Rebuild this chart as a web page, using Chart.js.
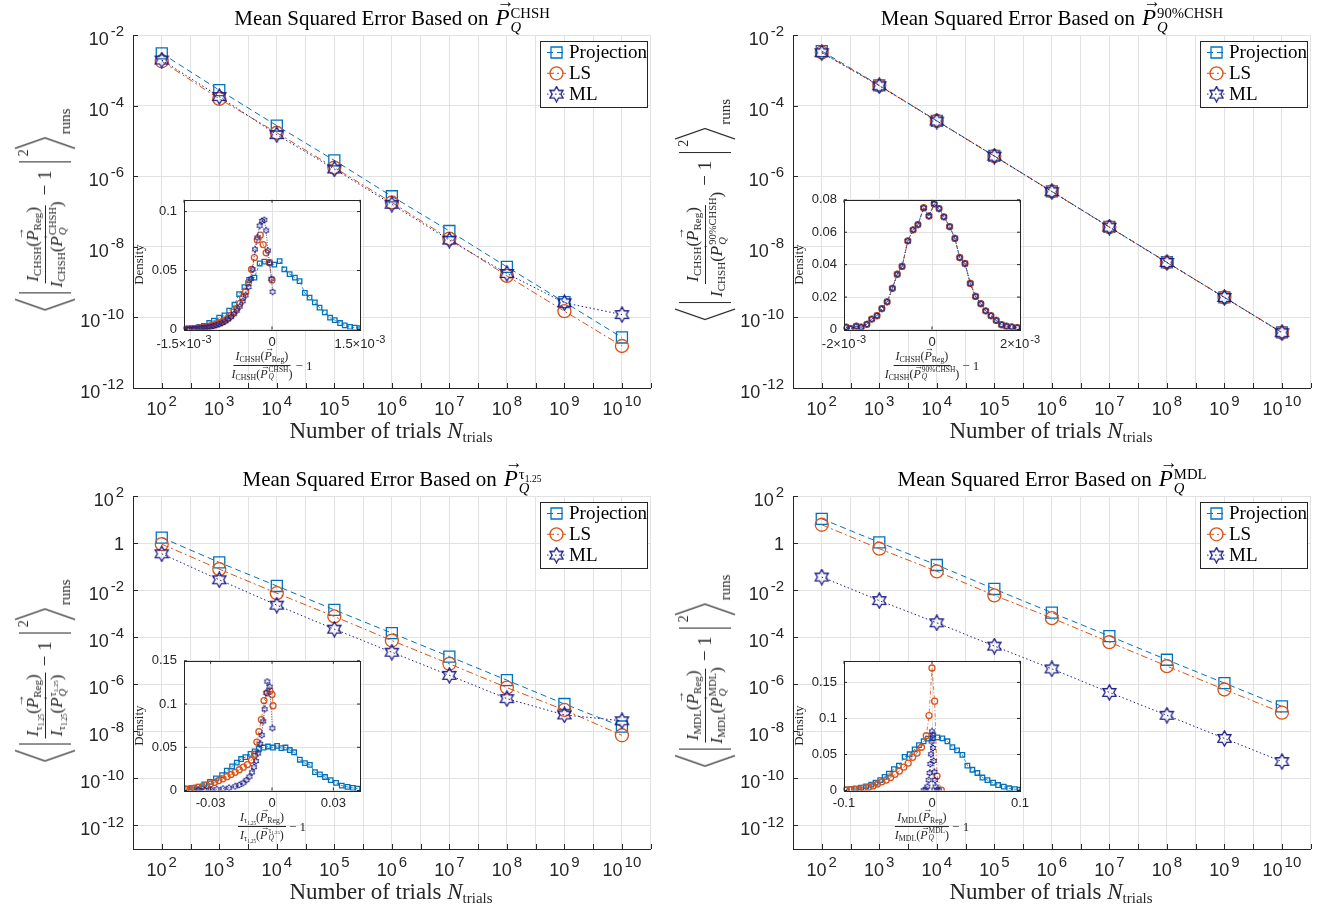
<!DOCTYPE html>
<html>
<head>
<meta charset="utf-8">
<script src="https://cdn.jsdelivr.net/npm/chart.js@4.4.0/dist/chart.umd.min.js"></script>
<style>
body{margin:0;background:#fff;}
#fig{position:relative;width:1337px;height:911px;overflow:hidden;font-family:'Liberation Serif',serif;color:#262626;}
.panel{position:absolute;width:660px;height:461px;}
.panel canvas{position:absolute;}
.ttl{position:absolute;left:392px;top:4px;transform:translateX(-50%);font-size:21px;white-space:nowrap;color:#000;}
.ttl .v{font-size:1.1em;margin-left:0.3em;}
.ttl .ss{font-size:0.7em;vertical-align:7px;}
.xl{position:absolute;left:391px;top:418px;transform:translateX(-50%);font-size:23px;white-space:nowrap;}
.v{position:relative;font-style:italic;display:inline-block;}
.v::after{content:'\2192';position:absolute;left:0.08em;top:-0.62em;font-size:0.75em;font-style:normal;line-height:1;}
.ss{display:inline-flex;flex-direction:column;font-size:0.62em;line-height:0.95;vertical-align:6px;margin-left:1px;}
sub{font-size:0.65em;vertical-align:-0.3em;line-height:0;}
.yl{position:absolute;transform:translate(-50%,-50%) rotate(-90deg);display:flex;align-items:center;white-space:nowrap;font-size:19px;}
.yl svg{display:block;}
.bar{display:inline-block;width:0;height:52px;border-left:1.3px solid #262626;margin:0 5px;}
.yl .fr{font-size:17px;line-height:1.25;}
.fr{display:inline-flex;flex-direction:column;align-items:center;}
.fr>span:first-child{border-bottom:1px solid #262626;padding:0 2px 1px;}
.m1{margin:0 3px 0 6px;}
.sq{align-self:flex-start;font-size:14px;margin-top:2px;}
.runs{align-self:flex-end;font-size:15px;margin-bottom:2px;margin-left:2px;}
.ixl{position:absolute;transform:translateX(-50%);font-size:13px;display:flex;align-items:center;white-space:nowrap;}
.ixl .fr{font-size:12px;line-height:1.15;margin-right:3px;}
</style>
</head>
<body>
<div id="fig"></div>
<script>
// number of trials (x of the main plots)
const nTrials = [1e2, 1e3, 1e4, 1e5, 1e6, 1e7, 1e8, 1e9, 1e10];

// main plots: mean squared error
const chshProj = [3.0e-3, 2.75e-4, 2.7e-5, 2.8e-6, 2.7e-7, 2.8e-8, 2.7e-9, 2.7e-10, 2.7e-11];
const chshLS   = [1.8e-3, 1.55e-4, 1.7e-5, 1.75e-6, 1.8e-7, 1.7e-8, 1.5e-9, 1.5e-10, 1.55e-11];
const chshML   = [1.95e-3, 1.8e-4, 1.5e-5, 1.6e-6, 1.6e-7, 1.55e-8, 1.75e-9, 2.6e-10, 1.2e-10];

const p90Proj = [3.5e-3, 3.75e-4, 3.7e-5, 3.75e-6, 3.7e-7, 3.65e-8, 3.65e-9, 3.7e-10, 3.75e-11];
const p90LS   = [3.2e-3, 3.7e-4, 3.7e-5, 3.7e-6, 3.7e-7, 3.6e-8, 3.6e-9, 3.7e-10, 3.7e-11];
const p90ML   = [3.15e-3, 3.65e-4, 3.65e-5, 3.7e-6, 3.65e-7, 3.6e-8, 3.6e-9, 3.65e-10, 3.7e-11];

const tauProj = [1.7, 0.15, 1.5e-2, 1.45e-3, 1.5e-4, 1.5e-5, 1.5e-6, 1.45e-7, 1.6e-8];
const tauLS   = [0.9, 7.8e-2, 7.4e-3, 7.6e-4, 7.2e-5, 7.4e-6, 7.2e-7, 8.1e-8, 6.8e-9];
const tauML   = [0.35, 2.75e-2, 2.3e-3, 2.2e-4, 2.3e-5, 2.4e-6, 2.45e-7, 5.0e-8, 2.8e-8];

const mdlProj = [10.7, 1.07, 0.117, 1.12e-2, 1.1e-3, 1.12e-4, 1.1e-5, 1.12e-6, 1.15e-7];
const mdlLS   = [6.0, 0.575, 6.3e-2, 6.0e-3, 6.5e-4, 6.2e-5, 5.9e-6, 6.0e-7, 6.2e-8];
const mdlML   = [3.6e-2, 3.6e-3, 4.1e-4, 4.2e-5, 4.5e-6, 4.5e-7, 4.8e-8, 5.0e-9, 5.2e-10];

// insets: density histograms (CHSH insets in units of 1e-3)
const chshHistProjX = [-1.50,-1.41,-1.33,-1.24,-1.16,-1.07,-0.99,-0.90,-0.81,-0.73,-0.64,-0.56,-0.47,-0.39,-0.30,-0.21,-0.13,-0.04,0.04,0.13,0.21,0.30,0.39,0.47,0.56,0.64,0.73,0.81,0.90,0.99,1.07,1.16,1.24,1.33,1.41,1.50];
const chshHistProjY = [0.0005,0.0008,0.0012,0.0022,0.0030,0.0055,0.0075,0.0100,0.0120,0.0160,0.0210,0.0300,0.0360,0.0420,0.0440,0.0560,0.0575,0.0570,0.0550,0.0580,0.0510,0.0470,0.0440,0.0410,0.0310,0.0270,0.0230,0.0185,0.0145,0.0100,0.0080,0.0055,0.0035,0.0023,0.0016,0.0012];
const chshHistLSX = [-1.50,-1.45,-1.40,-1.35,-1.30,-1.25,-1.20,-1.15,-1.10,-1.05,-1.00,-0.95,-0.90,-0.85,-0.80,-0.75,-0.70,-0.65,-0.60,-0.55,-0.50,-0.45,-0.40,-0.35,-0.30,-0.25,-0.20,-0.15,-0.10,-0.05,0.00];
const chshHistLSY = [0.0003,0.0004,0.0005,0.0007,0.0009,0.0012,0.0015,0.0019,0.0024,0.0030,0.0037,0.0045,0.0055,0.0066,0.0080,0.0098,0.0120,0.0150,0.0180,0.0220,0.0270,0.0320,0.0400,0.0510,0.0610,0.0760,0.0800,0.0720,0.0650,0.0570,0.0420];
const chshHistMLX = [-1.50,-1.45,-1.40,-1.35,-1.30,-1.25,-1.20,-1.15,-1.10,-1.05,-1.00,-0.95,-0.90,-0.85,-0.80,-0.75,-0.70,-0.65,-0.60,-0.55,-0.50,-0.45,-0.40,-0.36,-0.33,-0.29,-0.25,-0.21,-0.17,-0.13,-0.10,-0.07,-0.04,-0.01,0.01];
const chshHistMLY = [0.0002,0.0003,0.0004,0.0005,0.0007,0.0009,0.0012,0.0015,0.0019,0.0024,0.0030,0.0037,0.0045,0.0055,0.0068,0.0085,0.0105,0.0130,0.0160,0.0195,0.0240,0.0290,0.0360,0.0430,0.0510,0.0680,0.0780,0.0880,0.0920,0.0930,0.0840,0.0670,0.0560,0.0430,0.0320];

const p90HistX = [-1.95,-1.85,-1.72,-1.61,-1.48,-1.37,-1.25,-1.14,-1.02,-0.90,-0.79,-0.68,-0.55,-0.43,-0.32,-0.19,-0.07,0.05,0.16,0.27,0.40,0.52,0.63,0.75,0.87,0.99,1.11,1.22,1.34,1.46,1.58,1.69,1.81,1.94];
const p90HistProjY = [0.0014,0.0006,0.0020,0.0014,0.0032,0.0064,0.0085,0.0129,0.0171,0.0254,0.0340,0.0389,0.0546,0.0615,0.0647,0.0750,0.0700,0.0774,0.0746,0.0695,0.0635,0.0562,0.0443,0.0407,0.0284,0.0204,0.0159,0.0115,0.0085,0.0056,0.0030,0.0020,0.0016,0.0012];
const p90HistLSY   = [0.0014,0.0006,0.0020,0.0014,0.0032,0.0064,0.0085,0.0129,0.0171,0.0254,0.0341,0.0389,0.0547,0.0615,0.0647,0.0751,0.0700,0.0775,0.0746,0.0695,0.0635,0.0562,0.0444,0.0407,0.0284,0.0204,0.0159,0.0115,0.0085,0.0056,0.0030,0.0020,0.0016,0.0012];
const p90HistMLY   = [0.0014,0.0006,0.0020,0.0014,0.0032,0.0064,0.0085,0.0129,0.0171,0.0254,0.0340,0.0389,0.0546,0.0615,0.0647,0.0750,0.0700,0.0774,0.0746,0.0695,0.0635,0.0562,0.0443,0.0407,0.0284,0.0204,0.0159,0.0115,0.0085,0.0056,0.0030,0.0020,0.0016,0.0012];

const tauHistProjX = [-0.0415,-0.0389,-0.0359,-0.0331,-0.0303,-0.0274,-0.0244,-0.0221,-0.0195,-0.0172,-0.0151,-0.0130,-0.0105,-0.0085,-0.0064,-0.0041,-0.0020,0.0005,0.0025,0.0046,0.0066,0.0087,0.0108,0.0136,0.0161,0.0185,0.0210,0.0234,0.0259,0.0287,0.0313,0.0341,0.0369,0.0395,0.0418];
const tauHistProjY = [0.0020,0.0030,0.0045,0.0071,0.0100,0.0141,0.0178,0.0230,0.0278,0.0323,0.0364,0.0386,0.0423,0.0453,0.0483,0.0497,0.0509,0.0497,0.0516,0.0490,0.0497,0.0468,0.0442,0.0356,0.0316,0.0297,0.0212,0.0186,0.0156,0.0119,0.0089,0.0056,0.0041,0.0030,0.0022];
const tauHistLSX = [-0.0421,-0.0400,-0.0380,-0.0360,-0.0340,-0.0320,-0.0300,-0.0280,-0.0260,-0.0240,-0.0220,-0.0200,-0.0180,-0.0160,-0.0140,-0.0120,-0.0100,-0.0085,-0.0074,-0.0064,-0.0052,-0.0039,-0.0023,-0.0010,0.0000,0.0005];
const tauHistLSY = [0.0015,0.0020,0.0026,0.0035,0.0045,0.0060,0.0075,0.0095,0.0115,0.0135,0.0160,0.0185,0.0210,0.0240,0.0270,0.0300,0.0350,0.0420,0.0560,0.0680,0.0820,0.1040,0.1130,0.1150,0.1110,0.0980];
const tauHistMLX = [-0.0360,-0.0330,-0.0300,-0.0270,-0.0240,-0.0210,-0.0180,-0.0160,-0.0140,-0.0125,-0.0110,-0.0098,-0.0088,-0.0078,-0.0068,-0.0058,-0.0050,-0.0043,-0.0036,-0.0028,-0.0023,-0.0011,0.0002];
const tauHistMLY = [0.0004,0.0006,0.0010,0.0015,0.0022,0.0032,0.0048,0.0065,0.0090,0.0120,0.0160,0.0210,0.0270,0.0340,0.0430,0.0540,0.0640,0.0800,0.0940,0.1130,0.1260,0.1200,0.0720];

const mdlHistProjX = [-0.0975,-0.0918,-0.0861,-0.0805,-0.0748,-0.0691,-0.0641,-0.0588,-0.0539,-0.0490,-0.0433,-0.0376,-0.0311,-0.0254,-0.0197,-0.0148,-0.0095,-0.0046,0.0011,0.0061,0.0118,0.0175,0.0231,0.0285,0.0345,0.0402,0.0459,0.0516,0.0573,0.0630,0.0694,0.0751,0.0816,0.0877,0.0941,0.0998];
const mdlHistProjY = [0.0013,0.0018,0.0027,0.0040,0.0058,0.0081,0.0108,0.0144,0.0189,0.0234,0.0296,0.0346,0.0467,0.0503,0.0571,0.0629,0.0683,0.0719,0.0728,0.0737,0.0723,0.0683,0.0602,0.0557,0.0494,0.0346,0.0288,0.0243,0.0180,0.0144,0.0108,0.0076,0.0054,0.0031,0.0018,0.0013];
const mdlHistLSX = [-0.0975,-0.0930,-0.0880,-0.0830,-0.0780,-0.0720,-0.0670,-0.0620,-0.0570,-0.0520,-0.0470,-0.0420,-0.0370,-0.0320,-0.0270,-0.0220,-0.0170,-0.0120,-0.0065,-0.0034,0.0000,0.0030,0.0057,0.0106];
const mdlHistLSY = [0.0009,0.0013,0.0018,0.0023,0.0032,0.0045,0.0063,0.0090,0.0120,0.0145,0.0180,0.0225,0.0270,0.0325,0.0380,0.0460,0.0520,0.0600,0.0760,0.1040,0.1700,0.1240,0.0200,0.0005];
const mdlHistMLX = [-0.0095,-0.0072,-0.0053,-0.0038,-0.0027,-0.0019,-0.0011,-0.0004,0.0000,0.0008,0.0011,0.0019,0.0027,0.0034,0.0042,0.0057,0.0080];
const mdlHistMLY = [0.0003,0.0010,0.0054,0.0144,0.0243,0.0368,0.0503,0.0680,0.0820,0.0770,0.0590,0.0410,0.0256,0.0144,0.0054,0.0010,0.0003];

// tick values
const xTicksMain = [1.5,2,2.5,3,3.5,4,4.5,5,5.5,6,6.5,7,7.5,8,8.5,9,9.5,10,10.5].map(e => Math.pow(10, e));
const yTicksTop = [1e-12, 1e-10, 1e-8, 1e-6, 1e-4, 1e-2];
const yTicksBottom = [1e-12, 1e-10, 1e-8, 1e-6, 1e-4, 1e-2, 1, 1e2];

const C_PROJ = '#0072BD', C_LS = '#D95319', C_ML = '#1c1c8a', AX = '#262626', GRID = '#e2e2e2';
const SANS = "'Liberation Sans', Arial, sans-serif";

Chart.defaults.font.family = SANS;
Chart.defaults.color = AX;

function hexagram(size, color, lw) {
  const c = document.createElement('canvas');
  c.width = size; c.height = size;
  const g = c.getContext('2d');
  const cx = size / 2, R = size / 2 - lw / 2 - 0.3, r = R / Math.sqrt(3);
  g.strokeStyle = color; g.lineWidth = lw;
  g.beginPath();
  for (let k = 0; k < 12; k++) {
    const ang = -Math.PI / 2 + k * Math.PI / 6;
    const rr = k % 2 === 0 ? R : r;
    const px = cx + rr * Math.cos(ang), py = cx + rr * Math.sin(ang);
    if (k) g.lineTo(px, py); else g.moveTo(px, py);
  }
  g.closePath(); g.stroke();
  return c;
}
const starBig = hexagram(17, C_ML, 1.3);
const starSmall = hexagram(8, C_ML, 1);

function series(label, xs, ys, color, dash, style, radius, lw, order) {
  return {
    label: label,
    data: xs.map((x, i) => ({x: x, y: ys[i]})),
    borderColor: color, borderDash: dash, borderWidth: lw,
    pointStyle: style, pointRadius: radius, pointBorderColor: color,
    pointBackgroundColor: 'rgba(0,0,0,0)', pointBorderWidth: 1.3,
    fill: false, tension: 0, order: order
  };
}

// draws 10^e labels with a raised exponent
function drawPow(ctx, x, y, e, align) {
  if (e === 0) {
    ctx.font = '18px ' + SANS;
    ctx.textAlign = align === 'center' ? 'center' : 'right';
    ctx.fillText('1', x, y + 1);
    return;
  }
  ctx.font = '18px ' + SANS;
  const wb = ctx.measureText('10').width;
  const s = e < 0 ? '-' + (-e) : String(e);
  ctx.font = '15px ' + SANS;
  const we = ctx.measureText(s).width;
  const w = wb + 2 + we;
  const x0 = align === 'center' ? x - w / 2 : x - w;
  ctx.textAlign = 'left';
  ctx.font = '18px ' + SANS;
  ctx.fillText('10', x0, y + 4);
  ctx.font = '15px ' + SANS;
  ctx.fillText(s, x0 + wb + 2, y - 4);
}

const mainAxes = {
  id: 'mainAxes',
  beforeDatasetsDraw(chart, args, o) {
    if (!o.on) return;
    const ctx = chart.ctx, a = chart.chartArea, xs = chart.scales.x, ys = chart.scales.y;
    ctx.save();
    ctx.strokeStyle = AX; ctx.lineWidth = 1;
    ctx.beginPath();
    xs.ticks.forEach(t => { const px = Math.round(xs.getPixelForValue(t.value)) + 0.5; ctx.moveTo(px, a.bottom); ctx.lineTo(px, a.bottom - 5); });
    ys.ticks.forEach(t => { const py = Math.round(ys.getPixelForValue(t.value)) + 0.5; ctx.moveTo(a.left, py); ctx.lineTo(a.left + 5, py); });
    ctx.stroke();
    ctx.restore();
  },
  afterDraw(chart, args, o) {
    if (!o.on) return;
    const ctx = chart.ctx, a = chart.chartArea, xs = chart.scales.x, ys = chart.scales.y;
    ctx.save();
    ctx.fillStyle = AX; ctx.textBaseline = 'middle';
    xs.ticks.forEach(t => {
      const e = Math.log10(t.value);
      if (Math.abs(e - Math.round(e)) > 1e-6) return;
      drawPow(ctx, xs.getPixelForValue(t.value), a.bottom + 18, Math.round(e), 'center');
    });
    ys.ticks.forEach(t => {
      const e = Math.round(Math.log10(t.value));
      drawPow(ctx, a.left - 9, ys.getPixelForValue(t.value) + 1, e, 'right');
    });
    // legend box
    const lx = 540, ly = 41, lw = 107, lh = 66;
    ctx.fillStyle = '#fff';
    ctx.fillRect(lx, ly, lw, lh);
    ctx.strokeStyle = AX; ctx.lineWidth = 1;
    ctx.strokeRect(lx + 0.5, ly + 0.5, lw, lh);
    chart.data.datasets.forEach((ds, i) => {
      const yy = ly + 11.5 + i * 20.8;
      ctx.strokeStyle = ds.borderColor; ctx.lineWidth = ds.borderWidth;
      ctx.setLineDash(ds.borderDash);
      ctx.beginPath(); ctx.moveTo(lx + 7, yy); ctx.lineTo(lx + 26, yy); ctx.stroke();
      ctx.setLineDash([]);
      ctx.fillStyle = 'rgba(0,0,0,0)'; ctx.lineWidth = ds.pointBorderWidth;
      Chart.helpers.drawPoint(ctx, {pointStyle: ds.pointStyle, radius: ds.pointRadius, rotation: 0, borderWidth: ds.pointBorderWidth}, lx + 16.5, yy);
      ctx.fillStyle = '#000';
      ctx.font = "19px 'Liberation Serif', serif";
      ctx.textAlign = 'left';
      ctx.fillText(ds.label, lx + 29, yy + 1);
    });
    ctx.restore();
  }
};

const insetBox = {
  id: 'insetBox',
  beforeDraw(chart, args, o) {
    if (!o.on) return;
    const a = chart.chartArea, ctx = chart.ctx;
    ctx.save(); ctx.fillStyle = '#fff';
    ctx.fillRect(a.left, a.top, a.right - a.left, a.bottom - a.top);
    ctx.restore();
  },
  afterDraw(chart, args, o) {
    if (!o.on) return;
    const a = chart.chartArea, ctx = chart.ctx, xs = chart.scales.x, ys = chart.scales.y;
    ctx.save();
    ctx.strokeStyle = AX; ctx.lineWidth = 1;
    ctx.strokeRect(Math.round(a.left) + 0.5, Math.round(a.top) + 0.5, Math.round(a.right - a.left), Math.round(a.bottom - a.top));
    ctx.beginPath();
    xs.ticks.forEach(t => { const px = xs.getPixelForValue(t.value); ctx.moveTo(px, a.bottom); ctx.lineTo(px, a.bottom - 3); ctx.moveTo(px, a.top); ctx.lineTo(px, a.top + 3); });
    ys.ticks.forEach(t => { const py = ys.getPixelForValue(t.value); ctx.moveTo(a.left, py); ctx.lineTo(a.left + 3, py); ctx.moveTo(a.right, py); ctx.lineTo(a.right - 3, py); });
    ctx.stroke();
    ctx.fillStyle = AX; ctx.textBaseline = 'middle';
    o.labels.forEach(l => {
      const px = xs.getPixelForValue(l.v);
      if (l.e === undefined) {
        ctx.font = '13px ' + SANS; ctx.textAlign = 'center';
        ctx.fillText(l.m, px, a.bottom + 13);
        return;
      }
      const base = l.m + '\u00d710';
      ctx.font = '13px ' + SANS; const wb = ctx.measureText(base).width;
      ctx.font = '11px ' + SANS; const we = ctx.measureText(l.e).width;
      const x0 = px - (wb + 1 + we) / 2;
      ctx.textAlign = 'left';
      ctx.font = '13px ' + SANS; ctx.fillText(base, x0, a.bottom + 15);
      ctx.font = '11px ' + SANS; ctx.fillText(l.e, x0 + wb + 1, a.bottom + 10);
    });
    ctx.restore();
  }
};

Chart.register(mainAxes, insetBox);

// math text helpers
const vec = s => '<span class="v">' + s + '</span>';
const stack = (sup, sub) => '<span class="ss"><span>' + sup + '</span><span><i>' + sub + '</i></span></span>';
const PQ = sup => vec('P') + stack(sup, 'Q');
const Iop = sub => '<i>I</i><sub>' + sub + '</sub>';
const frac = (a, b) => '<span class="fr"><span>' + a + '</span><span>' + b + '</span></span>';
const angL = '<svg width="13" height="62"><polyline points="12,1 1.5,31 12,61" fill="none" stroke="#262626" stroke-width="1.2"/></svg>';
const angR = '<svg width="13" height="62"><polyline points="1,1 11.5,31 1,61" fill="none" stroke="#262626" stroke-width="1.2"/></svg>';

const panels = [
  {ox: 0, oy: 0, sup: 'CHSH', sub: 'CHSH', main: [chshProj, chshLS, chshML], yMin: 1e-12, yMax: 1e-2, yTicks: yTicksTop,
   hist: [[chshHistProjX, chshHistProjY], [chshHistLSX, chshHistLSY], [chshHistMLX, chshHistMLY]],
   hx: [-1.5, 1.5], hxt: [-1.5, 0, 1.5], hy: [0, 0.11], hyt: [0, 0.05, 0.1],
   hlab: [{v: -1.5, m: '-1.5', e: '-3'}, {v: 0, m: '0'}, {v: 1.5, m: '1.5', e: '-3'}]},
  {ox: 660, oy: 0, sup: '90%CHSH', sub: 'CHSH', main: [p90Proj, p90LS, p90ML], yMin: 1e-12, yMax: 1e-2, yTicks: yTicksTop,
   hist: [[p90HistX, p90HistProjY], [p90HistX, p90HistLSY], [p90HistX, p90HistMLY]],
   hx: [-2, 2], hxt: [-2, 0, 2], hy: [0, 0.08], hyt: [0, 0.02, 0.04, 0.06, 0.08],
   hlab: [{v: -2, m: '-2', e: '-3'}, {v: 0, m: '0'}, {v: 2, m: '2', e: '-3'}]},
  {ox: 0, oy: 461, sup: '\u03c4<sub>1.25</sub>', sub: '\u03c4<sub>1.25</sub>', main: [tauProj, tauLS, tauML], yMin: 1e-13, yMax: 1e2, yTicks: yTicksBottom,
   hist: [[tauHistProjX, tauHistProjY], [tauHistLSX, tauHistLSY], [tauHistMLX, tauHistMLY]],
   hx: [-0.043, 0.043], hxt: [-0.03, 0, 0.03], hy: [0, 0.15], hyt: [0, 0.05, 0.1, 0.15],
   hlab: [{v: -0.03, m: '-0.03'}, {v: 0, m: '0'}, {v: 0.03, m: '0.03'}]},
  {ox: 660, oy: 461, sup: 'MDL', sub: 'MDL', main: [mdlProj, mdlLS, mdlML], yMin: 1e-13, yMax: 1e2, yTicks: yTicksBottom,
   hist: [[mdlHistProjX, mdlHistProjY], [mdlHistLSX, mdlHistLSY], [mdlHistMLX, mdlHistMLY]],
   hx: [-0.1, 0.1], hxt: [-0.1, 0, 0.1], hy: [0, 0.18], hyt: [0, 0.05, 0.1, 0.15],
   hlab: [{v: -0.1, m: '-0.1'}, {v: 0, m: '0'}, {v: 0.1, m: '0.1'}]}
];

const fig = document.getElementById('fig');

panels.forEach(p => {
  const div = document.createElement('div');
  div.className = 'panel';
  div.style.left = p.ox + 'px'; div.style.top = p.oy + 'px';
  fig.appendChild(div);

  const cm = document.createElement('canvas');
  cm.width = 660; cm.height = 461; cm.style.left = '0px'; cm.style.top = '0px';
  div.appendChild(cm);
  const ci = document.createElement('canvas');
  ci.width = 290; ci.height = 175; ci.style.left = '132px'; ci.style.top = '185px';
  div.appendChild(ci);

  new Chart(cm, {
    type: 'line',
    data: {datasets: [
      series('Projection', nTrials, p.main[0], C_PROJ, [6, 4], 'rect', 7.8, 1, 2),
      series('LS', nTrials, p.main[1], C_LS, [7, 3, 2, 3], 'circle', 6.5, 1, 1),
      series('ML', nTrials, p.main[2], C_ML, [1.5, 2.5], starBig, 8, 1, 0)
    ]},
    options: {
      responsive: false, animation: false, devicePixelRatio: 1,
      layout: {padding: {left: 0, right: 8.5, top: 35, bottom: 0}},
      plugins: {legend: {display: false}, tooltip: {enabled: false}, mainAxes: {on: true}, insetBox: {on: false}},
      scales: {
        x: {type: 'logarithmic', min: Math.pow(10, 1.5), max: Math.pow(10, 10.5),
            afterBuildTicks: s => { s.ticks = xTicksMain.map(v => ({value: v})); },
            afterFit: s => { s.height = 73; },
            ticks: {display: false},
            grid: {color: GRID, drawTicks: false},
            border: {color: AX, width: 1}},
        y: {type: 'logarithmic', min: p.yMin, max: p.yMax,
            afterBuildTicks: s => { s.ticks = p.yTicks.map(v => ({value: v})); },
            afterFit: s => { s.width = 133; },
            ticks: {display: false},
            grid: {color: GRID, drawTicks: false},
            border: {color: AX, width: 1}}
      }
    }
  });

  new Chart(ci, {
    type: 'line',
    data: {datasets: [
      series('Projection', p.hist[0][0], p.hist[0][1], C_PROJ, [3, 2], 'rect', 3.2, 0.8, 2),
      series('LS', p.hist[1][0], p.hist[1][1], C_LS, [4, 2, 1, 2], 'circle', 3, 0.8, 1),
      series('ML', p.hist[2][0], p.hist[2][1], C_ML, [1, 1.5], starSmall, 4, 0.8, 0)
    ]},
    options: {
      responsive: false, animation: false, devicePixelRatio: 1,
      layout: {padding: {left: 0, right: 62, top: 10, bottom: 0}},
      plugins: {legend: {display: false}, tooltip: {enabled: false}, mainAxes: {on: false}, insetBox: {on: true, labels: p.hlab}},
      scales: {
        x: {type: 'linear', min: p.hx[0], max: p.hx[1],
            afterBuildTicks: s => { s.ticks = p.hxt.map(v => ({value: v})); },
            afterFit: s => { s.height = 30.5; },
            ticks: {display: false},
            grid: {color: GRID, drawTicks: false},
            border: {display: false}},
        y: {type: 'linear', min: p.hy[0], max: p.hy[1],
            afterBuildTicks: s => { s.ticks = p.hyt.map(v => ({value: v})); },
            afterFit: s => { s.width = 52; },
            ticks: {font: {size: 13}, color: AX, padding: 7, callback: v => String(+v.toFixed(4))},
            title: {display: true, text: 'Density', font: {family: "'Liberation Serif', serif", size: 13}, color: AX, padding: 0},
            grid: {color: GRID, drawTicks: false},
            border: {display: false}}
      }
    }
  });

  // title, axis labels
  const t = document.createElement('div');
  t.className = 'ttl';
  t.innerHTML = 'Mean Squared Error Based on' + PQ(p.sup);
  div.appendChild(t);

  const xl = document.createElement('div');
  xl.className = 'xl';
  xl.innerHTML = 'Number of trials <i>N</i><sub>trials</sub>';
  div.appendChild(xl);

  const yl = document.createElement('div');
  yl.className = 'yl';
  yl.style.left = '45px'; yl.style.top = '210px';
  yl.innerHTML = angL + '<span class="bar"></span>' +
    frac(Iop(p.sub) + '(' + vec('P') + '<sub>Reg</sub>)', Iop(p.sub) + '(' + PQ(p.sup) + ')') +
    '<span class="m1">\u2212 1</span><span class="bar"></span><span class="sq">2</span>' + angR + '<span class="runs">runs</span>';
  div.appendChild(yl);

  const ixl = document.createElement('div');
  ixl.className = 'ixl';
  ixl.style.left = '272px'; ixl.style.top = '350px';
  ixl.innerHTML = frac(Iop(p.sub) + '(' + vec('P') + '<sub>Reg</sub>)', Iop(p.sub) + '(' + PQ(p.sup) + ')') + '<span>\u2212 1</span>';
  div.appendChild(ixl);
});
</script>
</body>
</html>
